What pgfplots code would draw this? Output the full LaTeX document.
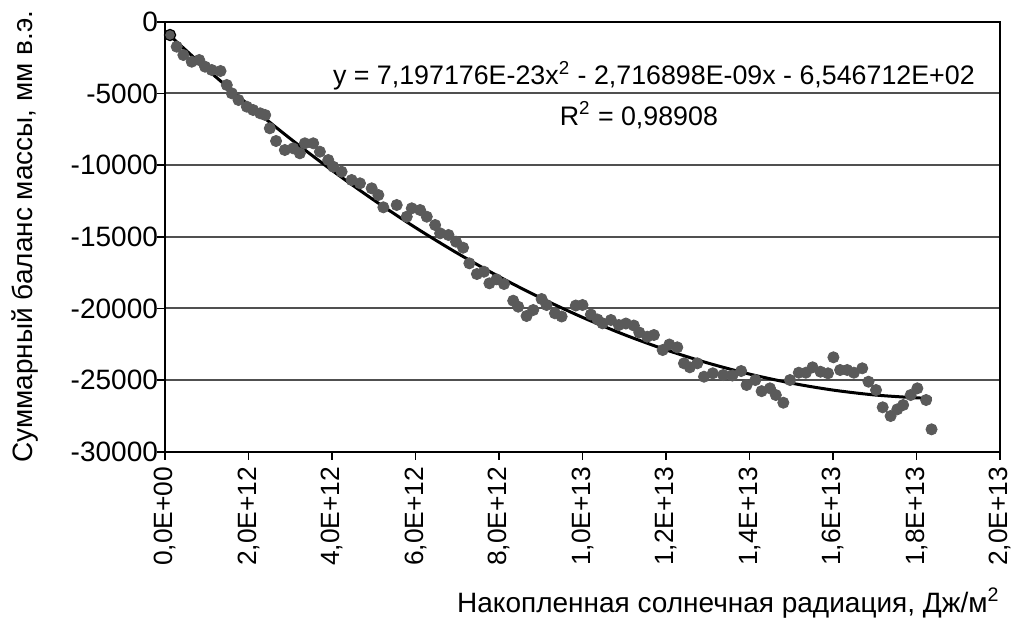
\documentclass[border=0pt]{standalone}
\usepackage{fontspec}
\setmainfont{Liberation Sans}
\usepackage{pgfplots}
\pgfplotsset{compat=1.18}
\definecolor{ptgray}{RGB}{90,90,90}
\definecolor{gridgray}{RGB}{80,80,80}
\newcommand{\lblfont}{\fontsize{14}{16.8}\selectfont}
\newcommand{\xtfont}{\fontsize{13.2}{16}\selectfont}
\newcommand{\eqfont}{\fontsize{13.4}{16}\selectfont}
\begin{document}
\begin{tikzpicture}[font=\lblfont]
\begin{axis}[
  scale only axis, width=417.5pt, height=215pt,
  xmin=0, xmax=20, ymin=-30000, ymax=0,
  scaled x ticks=false, scaled y ticks=false,
  xtick={0,2,...,20},
  xticklabels={{0,0E+00},{2,0E+12},{4,0E+12},{6,0E+12},{8,0E+12},{1,0E+13},{1,2E+13},{1,4E+13},{1,6E+13},{1,8E+13},{2,0E+13}},
  ytick={-30000,-25000,-20000,-15000,-10000,-5000,0},
  yticklabels={-30000,-25000,-20000,-15000,-10000,-5000,0},
  xtick pos=left, ytick pos=left,
  tick align=outside, major tick length=4pt,
  tick style={black, line width=0.8pt},
  axis line style={black, line width=0.8pt},
  ymajorgrids, grid style={gridgray, line width=1pt},
  tick label style={font=\lblfont},
  xticklabel style={rotate=90, anchor=east, font=\xtfont},
  yticklabel style={anchor=east, xshift=4pt},
  label style={font=\lblfont},
  ylabel={Суммарный баланс массы, мм в.э.},
  ylabel style={at={(axis description cs:-0.1677,0.5)}, anchor=center, rotate=0},
  xlabel={Накопленная солнечная радиация, Дж/м\textsuperscript{2}},
  xlabel style={at={(axis description cs:1.008,-0.3728)}, anchor=base east},
  clip=false,
]
\addplot[only marks, mark=*, mark size=2.8pt, mark options={fill=ptgray, draw=ptgray}] table {
x y
0.28 -1744
0.44 -2323
0.64 -2791
0.82 -2672
0.96 -3140
1.12 -3370
1.33 -3440
1.48 -4416
1.60 -4996
1.76 -5463
1.96 -5930
2.11 -6161
2.28 -6391
2.40 -6510
2.51 -7437
2.66 -8324
2.87 -8951
3.07 -8833
3.23 -9182
3.35 -8484
3.55 -8484
3.71 -9070
3.91 -9649
4.03 -10117
4.23 -10466
4.47 -11045
4.67 -11275
4.95 -11624
5.11 -12091
5.23 -12949
5.55 -12789
5.79 -13605
5.91 -13019
6.11 -13138
6.27 -13605
6.47 -14184
6.59 -14764
6.79 -14882
6.97 -15349
7.14 -15768
7.29 -16857
7.47 -17603
7.64 -17443
7.77 -18252
7.94 -17973
8.12 -18300
8.34 -19466
8.46 -19884
8.66 -20533
8.82 -20115
9.02 -19348
9.14 -19766
9.34 -20345
9.50 -20568
9.84 -19801
10.00 -19766
10.20 -20428
10.36 -20777
10.48 -21043
10.68 -20812
10.87 -21161
11.04 -21057
11.23 -21197
11.36 -21685
11.55 -21977
11.71 -21859
11.92 -22906
12.08 -22521
12.27 -22717
12.43 -23833
12.57 -24112
12.75 -23833
12.91 -24768
13.12 -24531
13.37 -24650
13.59 -24685
13.80 -24371
13.93 -25347
14.14 -24999
14.29 -25776
14.49 -25578
14.63 -26045
14.81 -26582
14.97 -24999
15.18 -24489
15.35 -24489
15.51 -24112
15.70 -24420
15.88 -24531
16.01 -23414
16.17 -24300
16.34 -24300
16.50 -24489
16.70 -24182
16.85 -25117
17.03 -25696
17.19 -26903
17.38 -27510
17.54 -27043
17.68 -26742
17.86 -26045
18.02 -25578
18.23 -26394
18.36 -28439
};
\addplot[only marks, mark=*, mark size=2.8pt, mark options={fill=ptgray, draw=black, line width=0.6pt}] coordinates {(0.12,-928)};
\addplot[black, line width=1.5pt, smooth] coordinates {
(0.12,-979.6) (1,-3299.6) (2,-5800.6) (3,-8157.6) (4,-10370.7) (5,-12439.9)
(6,-14365.1) (7,-16146.3) (8,-17783.7) (9,-19277.0) (10,-20626.5) (11,-21832.0)
(12,-22893.5) (13,-23811.1) (14,-24584.8) (15,-25214.5) (16,-25700.3)
(17,-26042.1) (18,-26240.0) (18.36,-26276.4)};
\node[anchor=base, font=\eqfont, inner sep=0pt] at (axis cs:11.71,-4416) {y = 7,197176E-23x\textsuperscript{2} - 2,716898E-09x - 6,546712E+02};
\node[anchor=base, font=\eqfont, inner sep=0pt] at (axis cs:11.35,-7214) {R\textsuperscript{2} = 0,98908};
\coordinate (bl) at (rel axis cs:0,0);
\coordinate (tr) at (rel axis cs:1,1);
\end{axis}
\pgfresetboundingbox
\path ([shift={(-82.5pt,-84.65pt)}]bl) rectangle ([shift={(7pt,10.85pt)}]tr);
\end{tikzpicture}
\end{document}
